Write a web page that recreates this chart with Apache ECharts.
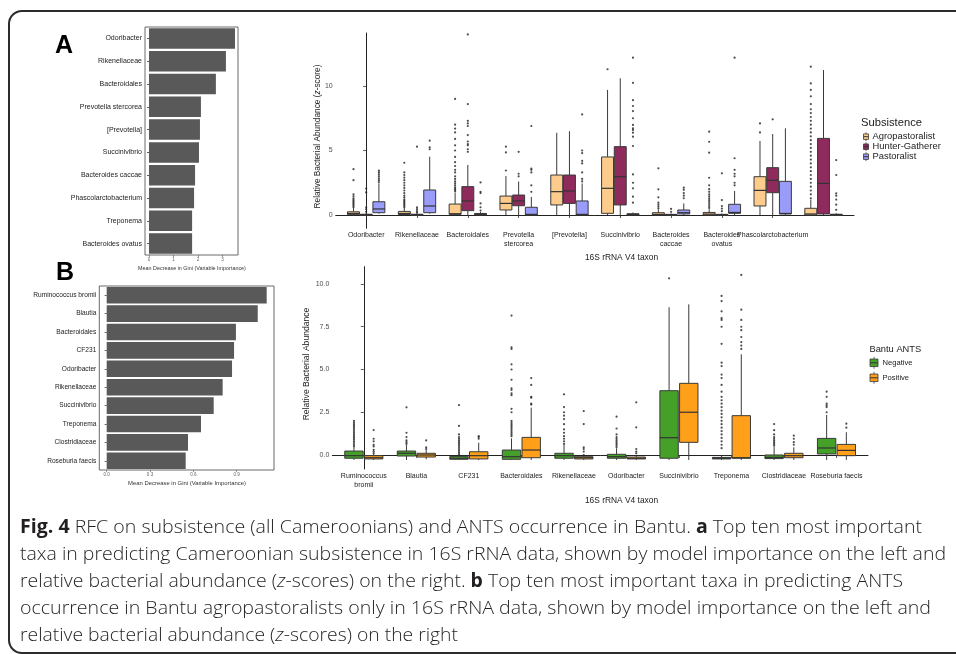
<!DOCTYPE html>
<html>
<head>
<meta charset="utf-8">
<script src="https://cdn.jsdelivr.net/npm/echarts@6/dist/echarts.min.js"></script>
<style>
html,body{margin:0;padding:0;width:956px;height:654px;overflow:hidden;background:#fff}
#chart{position:absolute;left:0;top:0;width:956px;height:654px}
#frame{position:absolute;left:8px;top:10px;width:1000px;height:640px;border:2px solid #2b2b2b;border-radius:14px}
#caption{position:absolute;left:20px;top:513px;font-family:"Open Sans",sans-serif;font-weight:300;font-size:19px;line-height:27px;color:#231f20}
#caption b{font-weight:700}
#caption div{white-space:nowrap;transform-origin:0 50%}
</style>
</head>
<body>
<div id="frame"></div>
<div id="chart"></div>
<div id="caption">
<div><b>Fig. 4</b> RFC on subsistence (all Cameroonians) and ANTS occurrence in Bantu. <b>a</b> Top ten most important</div>
<div>taxa in predicting Cameroonian subsistence in 16S rRNA data, shown by model importance on the left and</div>
<div>relative bacterial abundance (<i>z</i>-scores) on the right. <b>b</b> Top ten most important taxa in predicting ANTS</div>
<div>occurrence in Bantu agropastoralists only in 16S rRNA data, shown by model importance on the left and</div>
<div>relative bacterial abundance (<i>z</i>-scores) on the right</div>
</div>
<script>
// ---- panel A, left: variable importance
var barANames = ['Odoribacter', 'Rikenellaceae', 'Bacteroidales', 'Prevotella stercorea', '[Prevotella]',
  'Succinivibrio', 'Bacteroides caccae', 'Phascolarctobacterium', 'Treponema', 'Bacteroides ovatus'];
var barAValues = [3.51, 3.14, 2.73, 2.12, 2.08, 2.04, 1.88, 1.84, 1.76, 1.76];
var barATicks = [0, 1, 2, 3];

// ---- panel B, left: variable importance
var barBNames = ['Ruminococcus bromii', 'Blautia', 'Bacteroidales', 'CF231', 'Odoribacter', 'Rikenellaceae',
  'Succinivibrio', 'Treponema', 'Clostridiaceae', 'Roseburia faecis'];
var barBValues = [1.108, 1.046, 0.895, 0.882, 0.868, 0.803, 0.741, 0.653, 0.563, 0.547];
var barBTicks = [0, 0.3, 0.6, 0.9];

// ---- panel A, right: abundance by subsistence  [low, q1, median, q3, high]
var boxANames = ['Odoribacter', 'Rikenellaceae', 'Bacteroidales', 'Prevotella\nstercorea', '[Prevotella]',
  'Succinivibrio', 'Bacteroides\ncaccae', 'Bacteroides\novatus', 'Phascolarctobacterium', 'Treponema'];
var boxAGroups = ['Agropastoralist', 'Hunter-Gatherer', 'Pastoralist'];
var boxATicks = [0, 5, 10];
var agroBox = [[-0.05,0.03,0.12,0.25,0.55],[-0.05,0.04,0.12,0.28,0.55],[-0.05,0.05,0.1,0.85,1.75],[0,0.39,0.9,1.47,3.02],
  [0,0.78,1.81,3.1,6.38],[0,0.13,2.07,4.5,9.7],[-0.05,0,0.05,0.18,0.4],[-0.05,0,0.07,0.2,0.45],[0,0.7,1.91,2.97,5.74],[-0.05,0,0.08,0.52,1.2]];
var agroOut = [[0.6,0.7,0.8,0.9,1.0,1.1,1.2,1.3,1.45,1.6,2.7,3.55],
  [0.6,0.7,0.8,0.9,1.0,1.1,1.2,1.35,1.5,1.7,1.9,2.1,2.3,2.5,2.7,2.9,3.1,3.3,4.05],
  [1.85,1.95,2.05,2.15,2.3,2.45,2.6,2.8,3.0,3.3,3.5,3.8,4.1,4.5,5.0,5.4,5.9,6.4,6.7,7.0,9.0],
  [3.45,4.85,5.3], [], [11.3], [0.5,0.65,0.8,0.96,1.37,1.99,3.62],
  [0.55,0.7,0.85,1.0,1.15,1.3,1.45,1.6,1.8,2.0,2.3,2.89,4.83,5.68,6.46], [6.4,7.1],
  [1.3,1.6,1.9,2.2,2.5,2.8,3.1,3.4,3.7,4.0,4.3,4.6,4.9,5.2,5.5,5.8,6.1,6.4,6.7,7.0,7.3,7.6,7.9,8.2,8.6,9.2,9.7,10.2,11.5]];
var hgBox = [[-0.05,0,0.02,0.06,0.15],[-0.05,0,0.02,0.06,0.12],[0,0.34,1.09,2.2,3.88],[0,0.72,1.09,1.55,2.6],
  [0,0.9,1.86,3.1,6.5],[0,0.78,2.97,5.3,10.6],[-0.05,0,0.02,0.05,0.12],[-0.05,0,0.02,0.05,0.12],[0,1.73,2.69,3.67,6.28],[0,0.08,2.45,5.94,11.24]];
var hgOut = [[0.25,0.45,0.6,1.75,2.05],[0.18,0.3,0.45,0.6,5.3],[4.9,5.1,5.4,5.5,5.7,6.2,6.9,7.1,7.3,8.6,14.0],
  [3.0,3.2,4.9], [], [], [0.25,0.47], [0.3,0.5,0.7,1.16,3.23], [7.42], []];
var pastBox = [[0.1,0.18,0.47,1.03,2.45],[0.1,0.18,0.7,1.94,4.52],[-0.05,0,0.05,0.12,0.25],[-0.05,0,0.05,0.6,1.4],
  [-0.05,0,0.05,1.09,2.45],[-0.05,0,0.05,0.1,0.2],[0,0.08,0.18,0.39,0.9],[0,0.13,0.2,0.83,1.86],[-0.05,0.08,0.12,2.61,6.72],[-0.05,0,0.03,0.06,0.15]];
var pastOut = [[2.55,2.7,2.85,3.0,3.15,3.3,3.44],[5.1,5.25,5.76],[0.35,0.6,0.9,1.7,1.8,2.53],[1.8,2.3,3.3,3.5,3.6,6.9],
  [2.6,2.8,3.3,4.0,4.2,4.8,5.0,7.8],[0.96,1.42,2.07,2.5,3.15,5.35,6.07,6.38,6.6,6.72,6.98,7.5,8.06,8.45,8.9,10.25,12.2],
  [1.3,1.5,1.7,1.95,2.12],[2.3,2.5,3.0,3.2,3.5,4.4,12.2],[],[0.4,0.8,1.2,1.5,1.68,3.1,4.26]];

// ---- panel B, right: abundance by ANTS status
var boxBNames = ['Ruminococcus\nbromii', 'Blautia', 'CF231', 'Bacteroidales', 'Rikenellaceae', 'Odoribacter',
  'Succinivibrio', 'Treponema', 'Clostridiaceae', 'Roseburia faecis'];
var boxBGroups = ['Negative', 'Positive'];
var boxBTicks = [0, 2.5, 5, 7.5, 10];
var negBox = [[-0.29,-0.19,-0.04,0.23,0.45],[-0.29,-0.06,0.1,0.23,0.58],[-0.29,-0.25,-0.19,-0.08,-0.05],[-0.29,-0.25,-0.1,0.29,0.97],
  [-0.29,-0.19,-0.04,0.1,0.58],[-0.29,-0.19,-0.1,0.04,0.39],[-0.29,-0.19,1.01,3.76,8.64],[-0.29,-0.23,-0.19,-0.14,-0.05],
  [-0.29,-0.21,-0.14,0,0.49],[-0.29,0.06,0.41,0.97,2.34]];
var negOut = [[0.5,0.6,0.7,0.8,0.9,1.0,1.1,1.2,1.3,1.4,1.5,1.6,1.7,1.8,1.9,2.0],[0.65,0.75,0.85,1.05,1.3,2.79],
  [0.05,0.15,0.25,0.35,0.45,0.55,0.65,0.75,0.85,0.95,1.05,1.2,1.7,2.92],
  [1.1,1.2,1.3,1.4,1.5,1.6,1.7,1.8,1.9,2.0,2.5,2.7,3.5,3.6,3.8,3.9,4.4,5.0,5.3,6.2,6.3,8.15],
  [0.65,0.8,0.95,1.1,1.3,1.5,1.8,2.1,2.3,2.5,2.8,3.55],[0.45,0.55,0.65,0.75,0.85,0.95,1.05,1.2,1.55,2.24],[10.33],
  [0.4,0.6,0.8,1.0,1.2,1.4,1.6,1.8,2.0,2.2,2.4,2.6,2.8,3.0,3.2,3.4,3.7,4.1,4.5,4.7,5.2,5.4,6.5,7.5,7.9,8.0,8.4,9.0,9.3],
  [0.55,0.65,0.75,0.85,0.95,1.05,1.2,1.45,1.81],[2.5,2.8,2.9,3.0,3.4,3.7]];
var posBox = [[-0.29,-0.23,-0.16,-0.04,0.05],[-0.25,-0.12,0,0.1,0.3],[-0.29,-0.23,-0.04,0.19,0.72],[-0.29,-0.16,0.29,1.03,2.77],
  [-0.29,-0.23,-0.16,-0.1,-0.05],[-0.29,-0.23,-0.19,-0.12,-0.05],[-0.29,0.74,2.5,4.19,8.81],[-0.29,-0.19,-0.16,2.3,5.89],
  [-0.29,-0.16,-0.04,0.1,0.45],[-0.29,-0.04,0.27,0.62,1.33]];
var posOut = [[0.1,0.2,0.3,0.5,0.6,0.8,0.95,1.46],[0.35,0.45,0.85],[0.95,1.05,1.1],[2.95,3.0,3.35,3.4,4.1,4.5],
  [0,0.2,0.35,0.45,1.81,2.57],[0.1,0.2,0.35,1.62,3.08],[],[6.2,6.4,6.6,6.9,7.3,7.5,7.9,8.5,10.53],[0.6,0.75,0.95,1.13],[1.6,1.83]];

var FONT = '"Liberation Sans", Arial, sans-serif';
var colA = ['#FDCB8C', '#8E2A5C', '#999CF9'];
var colB = ['#45A02A', '#FF9F1A'];

function richName(n) {
  return n.split('\n').map(function (s) { return '{a|' + s + '}'; }).join('\n');
}

function boxRender(offset, width, color) {
  return function (params, api) {
    var x = api.value(0) + offset;
    var lo = api.coord([x, api.value(1)]);
    var q1 = api.coord([x, api.value(2)]);
    var md = api.coord([x, api.value(3)]);
    var q3 = api.coord([x, api.value(4)]);
    var hi = api.coord([x, api.value(5)]);
    var half = api.size([width, 0])[0] / 2;
    var ln = {stroke: '#3a3a3a', lineWidth: 1};
    return {type: 'group', children: [
      {type: 'line', shape: {x1: lo[0], y1: lo[1], x2: q1[0], y2: q1[1]}, style: ln},
      {type: 'line', shape: {x1: q3[0], y1: q3[1], x2: hi[0], y2: hi[1]}, style: ln},
      {type: 'rect', shape: {x: q3[0] - half, y: q3[1], width: 2 * half, height: Math.max(q1[1] - q3[1], 1)},
        style: {fill: color, stroke: '#3a3a3a', lineWidth: 1}},
      {type: 'line', shape: {x1: md[0] - half, y1: md[1], x2: md[0] + half, y2: md[1]}, style: {stroke: '#333', lineWidth: 1.2}}
    ]};
  };
}

function boxSeries(boxes, outs, offset, width, color, axisIdx) {
  var bd = boxes.map(function (b, i) { return [i].concat(b); });
  var od = [];
  outs.forEach(function (arr, i) { arr.forEach(function (v) { od.push([i + offset, v]); }); });
  return [
    {type: 'custom', xAxisIndex: axisIdx, yAxisIndex: axisIdx, data: bd, encode: {x: 0, y: [1, 2, 3, 4, 5]},
      renderItem: boxRender(offset, width, color), silent: true},
    {type: 'scatter', xAxisIndex: axisIdx, yAxisIndex: axisIdx, data: od, symbolSize: 2.2,
      itemStyle: {color: '#222'}, silent: true}
  ];
}

function barXAxis(grid, min, max, ticks, dec) {
  return {gridIndex: grid, type: 'value', min: min, max: max, splitLine: {show: false},
    axisLine: {show: false},
    axisTick: {show: true, length: 2, lineStyle: {color: '#555', width: 0.6}, customValues: ticks},
    axisLabel: {customValues: ticks, fontSize: 4.6, color: '#666', margin: 2, fontFamily: FONT,
      formatter: function (v) { return v.toFixed(dec); }}};
}
function barYAxis(grid, names, size) {
  return {gridIndex: grid, type: 'category', data: names, inverse: true,
    axisLine: {show: false}, axisTick: {show: true, length: 2, alignWithLabel: true, lineStyle: {color: '#333', width: 0.8}},
    axisLabel: {fontSize: size, color: '#222', margin: 3, fontFamily: FONT}};
}
function boxXAxis(grid, names) {
  var ticks = names.map(function (n, i) { return i; });
  return {gridIndex: grid, type: 'value', min: -0.6, max: names.length - 0.4, splitLine: {show: false},
    axisLine: {show: true, lineStyle: {color: '#222', width: 1}},
    axisTick: {show: true, length: 3, customValues: ticks, lineStyle: {color: '#333', width: 0.8}},
    axisLabel: {customValues: ticks, margin: 3, formatter: function (v) { return richName(names[Math.round(v)]); },
      rich: {a: {fontSize: 7, color: '#222', lineHeight: 8.5, fontFamily: FONT}}}};
}
function boxYAxis(grid, min, max, ticks, dec) {
  return {gridIndex: grid, type: 'value', min: min, max: max, splitLine: {show: false},
    axisLine: {show: true, lineStyle: {color: '#222', width: 1}},
    axisTick: {show: true, length: 3, customValues: ticks, lineStyle: {color: '#333', width: 0.8}},
    axisLabel: {customValues: ticks, fontSize: 7, color: '#4d4d4d', margin: 3, fontFamily: FONT,
      formatter: function (v) { return v.toFixed(dec); }}};
}

function txt(x, y, s, size, opts) {
  opts = opts || {};
  return {type: 'text', x: x, y: y, rotation: opts.rot || 0, silent: true,
    style: {text: s, font: (opts.bold ? 'bold ' : '') + size + 'px ' + FONT, fill: opts.fill || '#222',
      align: opts.align || 'left', verticalAlign: 'middle', rich: opts.rich}};
}
function legendKey(x, y, w, h, color, stub) {
  var c = x + w / 2;
  return [
    {type: 'line', shape: {x1: c, y1: y - h / 2 - stub, x2: c, y2: y + h / 2 + stub}, style: {stroke: '#3a3a3a', lineWidth: 0.8}},
    {type: 'rect', shape: {x: x, y: y - h / 2, width: w, height: h}, style: {fill: color, stroke: '#3a3a3a', lineWidth: 0.8}},
    {type: 'line', shape: {x1: x, y1: y, x2: x + w, y2: y}, style: {stroke: '#333', lineWidth: 1}}
  ];
}

var graphics = [
  txt(55, 46, 'A', 25, {bold: true, fill: '#000'}),
  txt(56, 273, 'B', 25, {bold: true, fill: '#000'}),
  txt(192, 269, 'Mean Decrease in Gini (Variable Importance)', 5.4, {align: 'center', fill: '#333'}),
  txt(187, 483.5, 'Mean Decrease in Gini (Variable Importance)', 5.9, {align: 'center', fill: '#333'}),
  txt(318, 136.5, 'Relative Bacterial Abundance ({i|z}-score)', 8.3, {align: 'center', rot: Math.PI / 2,
    rich: {i: {fontStyle: 'italic', fontSize: 8.3, fontFamily: FONT, fill: '#222'}}}),
  txt(621.5, 258, '16S rRNA V4 taxon', 8.4, {align: 'center'}),
  txt(306.5, 364, 'Relative Bacterial Abundance', 8.6, {align: 'center', rot: Math.PI / 2}),
  txt(621.5, 501, '16S rRNA V4 taxon', 8.4, {align: 'center'}),
  txt(861, 122.5, 'Subsistence', 11.2),
  txt(869.5, 349, 'Bantu ANTS', 9.3)
];
boxAGroups.forEach(function (g, i) {
  var y = 136.7 + 10 * i;
  graphics = graphics.concat(legendKey(863.5, y, 5, 5.5, colA[i], 1.6));
  graphics.push(txt(872.5, y, g, 9.4));
});
boxBGroups.forEach(function (g, i) {
  var y = 362.8 + 15 * i;
  graphics = graphics.concat(legendKey(870, y, 8, 7.5, colB[i], 2.2));
  graphics.push(txt(882.5, y, g, 7.6));
});

var series = [
  {type: 'bar', xAxisIndex: 0, yAxisIndex: 0, data: barAValues, barWidth: '90%', itemStyle: {color: '#595959'}, silent: true},
  {type: 'bar', xAxisIndex: 2, yAxisIndex: 2, data: barBValues, barWidth: '90%', itemStyle: {color: '#595959'}, silent: true}
];
[agroBox, hgBox, pastBox].forEach(function (b, i) {
  series = series.concat(boxSeries(b, [agroOut, hgOut, pastOut][i], (i - 1) * 0.25, 0.235, colA[i], 1));
});
[negBox, posBox].forEach(function (b, i) {
  series = series.concat(boxSeries(b, [negOut, posOut][i], (i - 0.5) * 0.375, 0.35, colB[i], 3));
});

var chart = echarts.init(document.getElementById('chart'), null, {renderer: 'canvas'});
chart.setOption({
  animation: false,
  textStyle: {fontFamily: FONT},
  grid: [
    {left: 145, top: 27, width: 93, height: 228, show: true, borderColor: '#444', borderWidth: 0.8, backgroundColor: '#fff'},
    {left: 335.7, top: 33, width: 518.3, height: 195.3},
    {left: 99.3, top: 286, width: 174.7, height: 184, show: true, borderColor: '#444', borderWidth: 0.8, backgroundColor: '#fff'},
    {left: 332.3, top: 266.7, width: 535.7, height: 202.3}
  ],
  xAxis: [
    barXAxis(0, -0.163, 3.633, barATicks, 0),
    boxXAxis(1, boxANames),
    barXAxis(2, -0.0512, 1.1586, barBTicks, 1),
    boxXAxis(3, boxBNames)
  ],
  yAxis: [
    barYAxis(0, barANames, 7),
    boxYAxis(1, -1.03, 14.11, boxATicks, 0),
    barYAxis(2, barBNames, 6.6),
    boxYAxis(3, -0.819, 11.01, boxBTicks, 1)
  ],
  series: series,
  graphic: graphics
});

// fit caption lines to the printed line widths
var capWidths = [902, 926, 883, 911, 438];
document.querySelectorAll('#caption div').forEach(function (d, i) {
  var span = document.createElement('span');
  span.innerHTML = d.innerHTML;
  d.innerHTML = '';
  d.appendChild(span);
  span.style.display = 'inline-block';
  span.style.transformOrigin = '0 50%';
  span.style.transform = 'scaleX(' + (capWidths[i] / span.getBoundingClientRect().width) + ')';
});
</script>
</body>
</html>
